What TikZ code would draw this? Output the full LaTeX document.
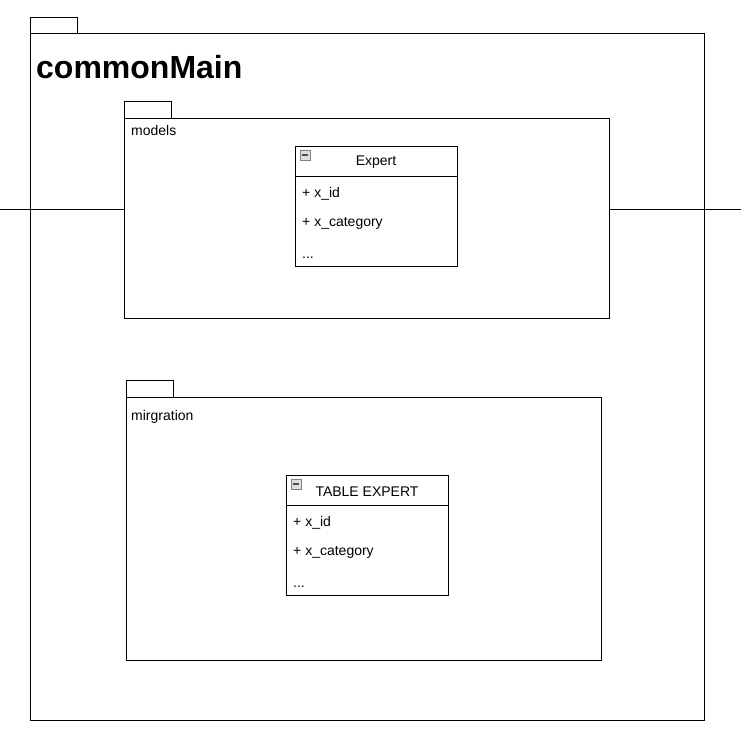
\documentclass[tikz,border=0pt]{standalone}
\usepackage{fontspec}
\setmainfont{Liberation Sans}
\usetikzlibrary{positioning}

\tikzset{
  frame/.style={draw, line width=1pt, anchor=north west, inner sep=0pt},
  txt/.style={anchor=west, inner sep=0pt, font=\fontsize{14}{16}\selectfont},
  classname/.style={inner sep=0pt, font=\fontsize{14}{16}\selectfont},
  icon/.style={draw=gray, fill=gray!25, line width=0.8pt, minimum size=10pt, inner sep=0pt, anchor=north west}
}

\begin{document}
\begin{tikzpicture}[x=1pt,y=-1pt]
\useasboundingbox (0,0) rectangle (741,750);

% outer package
\node[frame, minimum width=47pt, minimum height=16pt] (mainTab) at (30,17) {};
\node[frame, minimum width=674pt, minimum height=687pt] (main) at (30,33) {};
\node[anchor=base west, inner sep=0pt, font=\fontsize{32}{36}\selectfont\bfseries] (mainLbl) at (36,78) {commonMain};

% models package
\node[frame, minimum width=47pt, minimum height=17pt] (modelsTab) at (124,101) {};
\node[frame, minimum width=485pt, minimum height=200pt] (models) at (124,118) {};
\node[txt] (modelsLbl) at (131,130) {models};

% migration package
\node[frame, minimum width=47pt, minimum height=17pt] (migTab) at (126,380) {};
\node[frame, minimum width=475pt, minimum height=263pt] (mig) at (126,397) {};
\node[txt] (migLbl) at (131,417) {mirgration};

% classes
\foreach \name/\x/\y/\title in {expert/295/146/Expert, table/286/475/TABLE EXPERT}
{
  \node[frame, minimum width=162pt, minimum height=120pt] (\name) at (\x,\y) {};
  \draw[line width=1pt] (\x,\y+30) -- (\x+162,\y+30);
  \node[icon] (\name Icon) at (\x+5,\y+4) {};
  \draw[line width=1.2pt, black!70] (\x+7,\y+9) -- (\x+13,\y+9);
  \node[classname] (\name Title) at (\x+81,\y+16.5) {\title};
  \node[txt] (\name A) at (\x+7,\y+47.5) {+ x\_id};
  \node[txt] (\name B) at (\x+7,\y+77.5) {+ x\_category};
  \node[txt, anchor=base west] (\name C) at (\x+7,\y+112) {...};
}

% connector through models
\coordinate (lineL) at (0,209);
\coordinate (lineR) at (741,209);
\draw[line width=1pt] (lineL) -- (lineL -| models.west);
\draw[line width=1pt] (lineR -| models.east) -- (lineR);

\end{tikzpicture}
\end{document}
